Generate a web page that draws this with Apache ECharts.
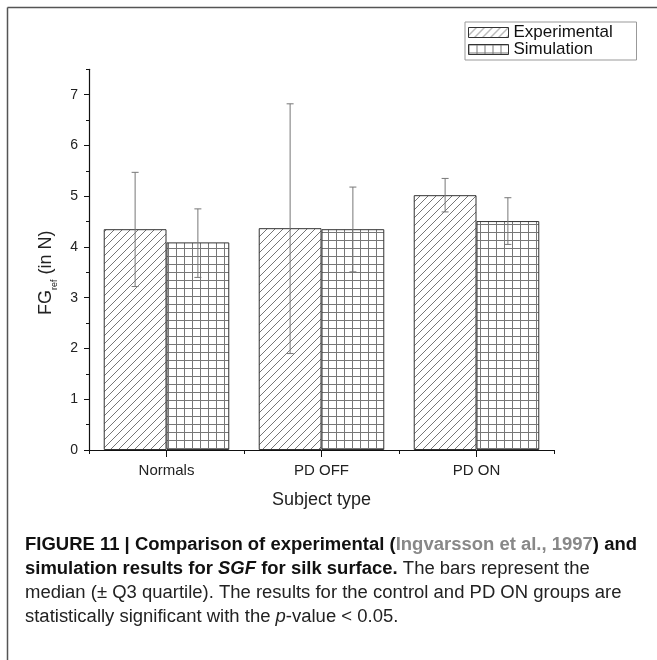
<!DOCTYPE html>
<html>
<head>
<meta charset="utf-8">
<script src="https://cdn.jsdelivr.net/npm/echarts@6/dist/echarts.min.js"></script>
<style>
html,body{margin:0;padding:0;background:#fff;}
#chart{width:657px;height:660px;}
</style>
</head>
<body>
<div id="chart"></div>
<script>
// ---- data ----
const categories = ['Normals', 'PD OFF', 'PD ON'];
const seriesNames = ['Experimental', 'Simulation'];
const experimental = [4.35, 4.37, 5.02];
const experimentalLow = [3.22, 1.90, 4.69];
const experimentalHigh = [5.47, 6.82, 5.35];
const simulation = [4.09, 4.35, 4.51];
const simulationLow = [3.40, 3.51, 4.05];
const simulationHigh = [4.75, 5.18, 4.97];
const yTickValues = [0, 1, 2, 3, 4, 5, 6, 7];
const yMinorTickValues = [0.5, 1.5, 2.5, 3.5, 4.5, 5.5, 6.5, 7.5];
const captionLines = [
  'FIGURE 11 | Comparison of experimental (Ingvarsson et al., 1997) and',
  'simulation results for SGF for silk surface. The bars represent the',
  'median (\u00b1 Q3 quartile). The results for the control and PD ON groups are',
  'statistically significant with the p-value < 0.05.'
];

// ---- patterns ----
function hatchPattern() {
  const c = document.createElement('canvas');
  c.width = 8; c.height = 8;
  const g = c.getContext('2d');
  g.fillStyle = '#fff'; g.fillRect(0, 0, 8, 8);
  g.strokeStyle = '#666'; g.lineWidth = 0.9;
  g.beginPath();
  g.moveTo(-2, 10); g.lineTo(10, -2);
  g.moveTo(-2, 2); g.lineTo(2, -2);
  g.moveTo(6, 10); g.lineTo(10, 6);
  g.stroke();
  return c;
}
function gridPattern() {
  const c = document.createElement('canvas');
  c.width = 8; c.height = 8;
  const g = c.getContext('2d');
  g.fillStyle = '#fff'; g.fillRect(0, 0, 8, 8);
  g.strokeStyle = '#777'; g.lineWidth = 1;
  g.beginPath();
  g.moveTo(0.5, 0); g.lineTo(0.5, 8);
  g.moveTo(0, 0.5); g.lineTo(8, 0.5);
  g.stroke();
  return c;
}
const hatchFill = { image: hatchPattern(), repeat: 'repeat' };
const gridFill = { image: gridPattern(), repeat: 'repeat' };

const CAT_GAP = 0.19;

function errorSeries(name, idx, low, high) {
  return {
    type: 'custom',
    name: name + ' err',
    xAxisIndex: 0, yAxisIndex: 0,
    z: 5,
    data: categories.map((c, i) => [i, low[i], high[i]]),
    renderItem: function (params, api) {
      const ci = api.value(0);
      const band = api.size([1, 0])[0];
      const bw = band * (1 - CAT_GAP) / 2;
      const off = idx === 0 ? -bw / 2 : bw / 2;
      const top = api.coord([ci, api.value(2)]);
      const bot = api.coord([ci, api.value(1)]);
      const x = top[0] + off;
      const cap = 3.5;
      const st = { stroke: '#777', lineWidth: 1 };
      return {
        type: 'group',
        children: [
          { type: 'line', shape: { x1: x, y1: top[1], x2: x, y2: bot[1] }, style: st },
          { type: 'line', shape: { x1: x - cap, y1: top[1], x2: x + cap, y2: top[1] }, style: st },
          { type: 'line', shape: { x1: x - cap, y1: bot[1], x2: x + cap, y2: bot[1] }, style: st }
        ]
      };
    }
  };
}

// caption scale
const mctx = document.createElement('canvas').getContext('2d');
mctx.font = 'bold 18px "Liberation Sans"';
const capScale = 612 / mctx.measureText(captionLines[0]).width;

const capX = 25;
const capFont = '"Liberation Sans", Arial, sans-serif';
const capRich = {
  b: { fontFamily: capFont, fontSize: 18, fontWeight: 'bold', fill: '#111' },
  g: { fontFamily: capFont, fontSize: 18, fontWeight: 'bold', fill: '#888' },
  bi: { fontFamily: capFont, fontSize: 18, fontWeight: 'bold', fontStyle: 'italic', fill: '#111' },
  n: { fontFamily: capFont, fontSize: 18, fill: '#222' },
  i: { fontFamily: capFont, fontSize: 18, fontStyle: 'italic', fill: '#222' }
};
function capText(y, text) {
  return {
    type: 'text', x: capX, y: y, scaleX: capScale,
    style: { text: text, rich: capRich, fontFamily: capFont, fontSize: 18, verticalAlign: 'middle', align: 'left' }
  };
}

const chart = echarts.init(document.getElementById('chart'), null, { renderer: 'canvas' });
const axisFont = '"Liberation Sans", Arial, sans-serif';

const option = {
  backgroundColor: '#fff',
  animation: false,
  grid: { left: 89, right: 103, top: 69.3, bottom: 210, containLabel: false },
  legend: {
    data: seriesNames,
    orient: 'vertical',
    left: 465, top: 22,
    itemWidth: 40, itemHeight: 10,
    itemGap: 0,
    padding: [2, 3, 2, 3],
    borderColor: '#999', borderWidth: 1,
    icon: 'rect',
    selectedMode: false,
    itemStyle: { borderColor: '#333', borderWidth: 1 },
    textStyle: { fontFamily: axisFont, fontSize: 17, color: '#111', lineHeight: 15, width: 120, padding: [0, 0, 0, 0] }
  },
  xAxis: [
    {
      type: 'category', data: categories, position: 'bottom',
      axisLine: { show: true, lineStyle: { color: '#111', width: 1.2 } },
      axisTick: { show: true, alignWithLabel: false, length: 4, lineStyle: { color: '#111' } },
      axisLabel: { fontFamily: axisFont, fontSize: 15, color: '#222', margin: 13 },
      name: 'Subject type', nameLocation: 'middle', nameGap: 41,
      nameTextStyle: { fontFamily: axisFont, fontSize: 18, color: '#222' },
      splitLine: { show: false }
    },
    {
      type: 'category', data: categories, position: 'bottom',
      axisLine: { show: false },
      axisTick: { show: true, alignWithLabel: true, length: 7, lineStyle: { color: '#111' } },
      axisLabel: { show: false },
      splitLine: { show: false }
    }
  ],
  yAxis: [
    {
      type: 'value', min: 0, max: 7.5, interval: 0.5,
      axisLine: { show: true, lineStyle: { color: '#111', width: 1.2 } },
      axisTick: { show: true, length: 3, customValues: yMinorTickValues, lineStyle: { color: '#111' } },
      axisLabel: { show: false },
      splitLine: { show: false }
    },
    {
      type: 'value', min: 0, max: 7.5, interval: 1, position: 'left',
      axisLine: { show: false },
      axisTick: { show: true, length: 5, customValues: yTickValues, lineStyle: { color: '#111' } },
      axisLabel: { fontFamily: axisFont, fontSize: 14, color: '#222', margin: 11, customValues: yTickValues },
      splitLine: { show: false },
      name: '{m|FG}{s|ref}{m| (in N)}',
      nameLocation: 'middle', nameRotate: 90, nameGap: 30,
      nameTextStyle: {
        fontFamily: axisFont, fontSize: 18, color: '#222',
        padding: [0, 26, 0, 0],
        rich: {
          m: { fontFamily: axisFont, fontSize: 18, color: '#222', lineHeight: 22, verticalAlign: 'top' },
          s: { fontFamily: axisFont, fontSize: 9, color: '#222', lineHeight: 22, verticalAlign: 'bottom' }
        }
      }
    }
  ],
  series: [
    {
      type: 'bar', name: seriesNames[0], data: experimental,
      xAxisIndex: 0, yAxisIndex: 0,
      barGap: '0%', barCategoryGap: (CAT_GAP * 100) + '%',
      itemStyle: { color: hatchFill, borderColor: '#333', borderWidth: 1 }
    },
    {
      type: 'bar', name: seriesNames[1], data: simulation,
      xAxisIndex: 0, yAxisIndex: 0,
      barGap: '0%', barCategoryGap: (CAT_GAP * 100) + '%',
      itemStyle: { color: gridFill, borderColor: '#333', borderWidth: 1 }
    },
    errorSeries(seriesNames[0], 0, experimentalLow, experimentalHigh),
    errorSeries(seriesNames[1], 1, simulationLow, simulationHigh)
  ],
  graphic: [
    { type: 'line', shape: { x1: 7.5, y1: 7.5, x2: 657, y2: 7.5 }, style: { stroke: '#555', lineWidth: 1.5 } },
    { type: 'line', shape: { x1: 7.5, y1: 7.5, x2: 7.5, y2: 660 }, style: { stroke: '#555', lineWidth: 1.5 } },
    capText(545, '{b|FIGURE 11 | Comparison of experimental (}{g|Ingvarsson et al., 1997}{b|) and}'),
    capText(569, '{b|simulation results for }{bi|SGF}{b| for silk surface.}{n| The bars represent the}'),
    capText(593, '{n|' + captionLines[2] + '}'),
    capText(617, '{n|statistically significant with the }{i|p}{n|-value < 0.05.}')
  ]
};
chart.setOption(option);
</script>
</body>
</html>
